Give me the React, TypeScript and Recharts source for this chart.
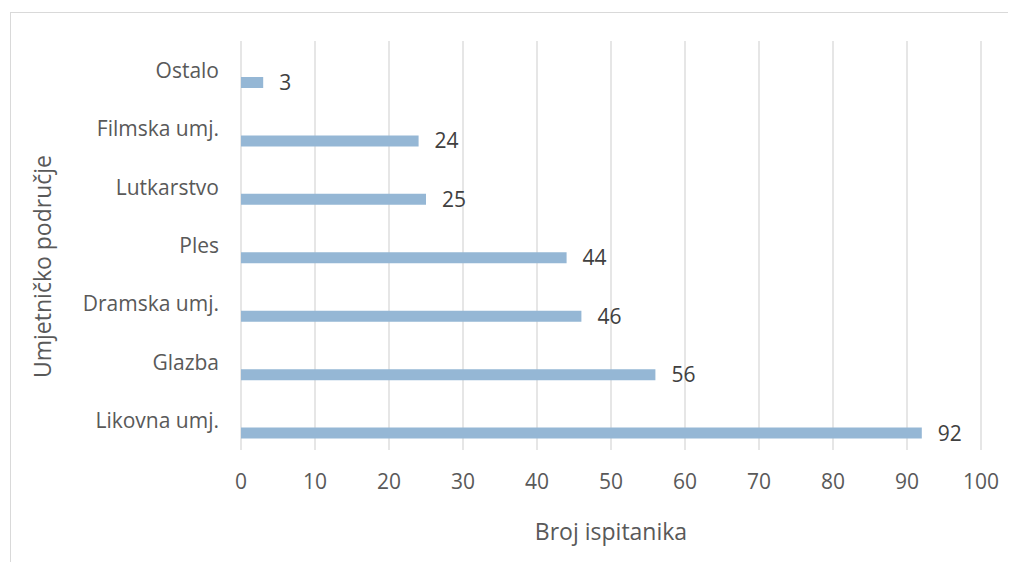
import React from "react";
import { BarChart, Bar, XAxis, YAxis, CartesianGrid, LabelList, Label } from "recharts";

const categories = ["Ostalo", "Filmska umj.", "Lutkarstvo", "Ples", "Dramska umj.", "Glazba", "Likovna umj."];
const counts = [3, 24, 25, 44, 46, 56, 92];
const xTicks = [0, 10, 20, 30, 40, 50, 60, 70, 80, 90, 100];
const xTitle = "Broj ispitanika";
const yTitle = "Umjetničko područje";

const data = categories.map((name, i) => ({ name, pad: null as number | null, value: counts[i] }));

const FONT = "'Open Sans', 'Noto Sans', sans-serif";
const TEXT = "#595959";

export default function App() {
  return (
    <div style={{ position: "relative", width: 1008, height: 554, background: "#fff" }}>
      <div
        style={{
          position: "absolute",
          left: 2,
          top: 4,
          right: -20,
          bottom: -20,
          borderTop: "1.5px solid #d9d9d9",
          borderLeft: "1.5px solid #d9d9d9",
          pointerEvents: "none",
        }}
      />
      <BarChart
        width={1008}
        height={554}
        data={data}
        layout="vertical"
        margin={{ top: 33, right: 35, left: 0, bottom: 0 }}
        barGap={14}
        barSize={11}
        style={{ fontFamily: FONT }}
      >
        <CartesianGrid horizontal={false} vertical={true} stroke="#d9d9d9" strokeWidth={1.3} />
        <XAxis
          type="number"
          domain={[0, 100]}
          ticks={xTicks}
          interval={0}
          height={112}
          axisLine={false}
          tickLine={false}
          tickSize={0}
          tickMargin={24}
          tick={{ fill: TEXT, fontSize: 21, fontFamily: FONT }}
        >
          <Label
            content={(props: any) => {
              const vb = props.viewBox || {};
              return (
                <text
                  x={vb.x + vb.width / 2}
                  y={vb.y + 81}
                  textAnchor="middle"
                  dominantBaseline="central"
                  fill={TEXT}
                  fontSize={23}
                  fontFamily={FONT}
                >
                  {xTitle}
                </text>
              );
            }}
          />
        </XAxis>
        <YAxis
          type="category"
          dataKey="name"
          width={233}
          axisLine={false}
          tickLine={false}
          tickSize={0}
          tickMargin={22}
          interval={0}
          tick={{ fill: TEXT, fontSize: 21, fontFamily: FONT }}
        >
          <Label
            content={(props: any) => {
              const vb = props.viewBox || {};
              const cx = 34;
              const cy = vb.y + vb.height / 2 + 21;
              return (
                <text
                  x={cx}
                  y={cy}
                  transform={`rotate(-90 ${cx} ${cy})`}
                  textAnchor="middle"
                  dominantBaseline="central"
                  fill={TEXT}
                  fontSize={23}
                  fontFamily={FONT}
                >
                  {yTitle}
                </text>
              );
            }}
          />
        </YAxis>
        <Bar dataKey="pad" fill="#95B7D5" isAnimationActive={false} />
        <Bar dataKey="value" fill="#95B7D5" isAnimationActive={false}>
          <LabelList
            dataKey="value"
            position="right"
            offset={16}
            fill="#404040"
            fontSize={21}
            fontFamily={FONT}
          />
        </Bar>
      </BarChart>
    </div>
  );
}
